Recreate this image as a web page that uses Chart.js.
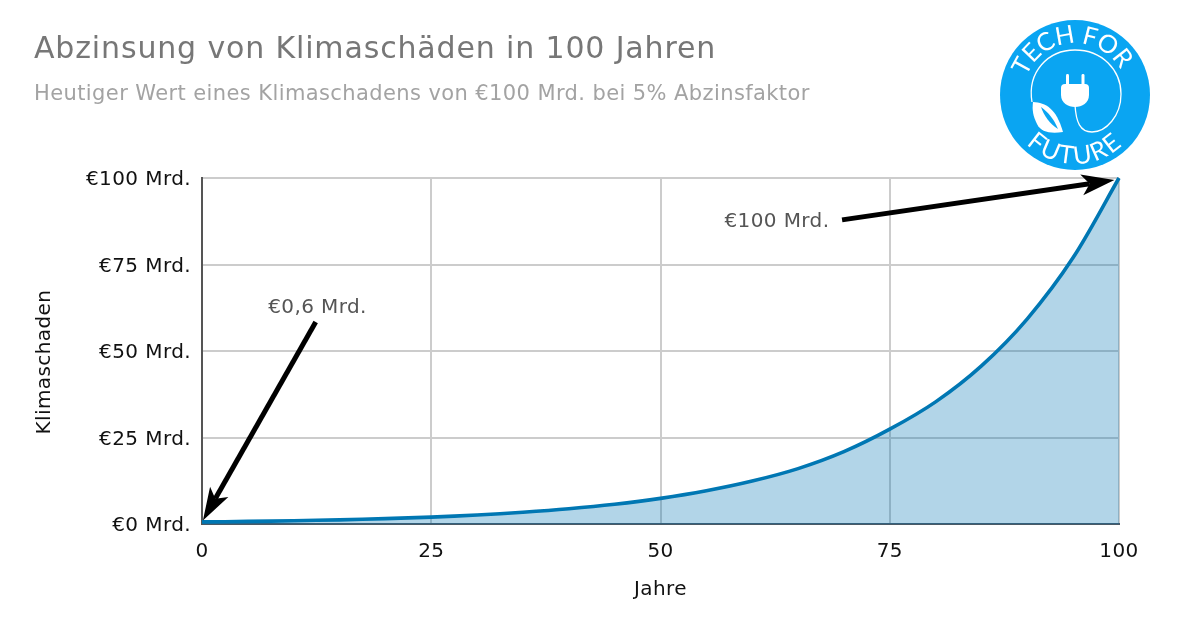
<!DOCTYPE html>
<html><head><meta charset="utf-8">
<style>html,body{margin:0;padding:0;background:#fff}#w{position:relative;width:1200px;height:630px}canvas{position:absolute;left:0;top:0}svg{position:absolute;left:0;top:0}</style>
<script src="https://cdn.jsdelivr.net/npm/chart.js@4"></script></head><body>
<div id="w"><canvas id="c" width="1200" height="630"></canvas>
<svg width="1200" height="630" viewBox="0 0 1200 630">
<circle cx="1075" cy="95" r="75" fill="#0aa5f2"/>
<defs><path id="topArc" d="M1023 95 A52 52 0 0 1 1127 95"/><path id="botArc" d="M1006 95 A69 69 0 0 0 1144 95"/></defs>
<text font-family="Lato" font-size="25" fill="#fff" letter-spacing="-0.4" text-anchor="middle"><textPath href="#topArc" startOffset="47.5%">TECH FOR</textPath></text>
<text font-family="Lato" font-size="25" fill="#fff" letter-spacing="2" text-anchor="middle"><textPath href="#botArc" startOffset="50%">FUTURE</textPath></text>
<path d="M1032 102 C1027 72 1048 50 1075 50 C1102 50 1121 70 1121 94 C1121 116 1106 132 1092 132 C1080 132 1076 122 1075 105" fill="none" stroke="#fff" stroke-width="1.3"/>
<rect x="1066" y="74" width="3" height="12" rx="1.4" fill="#fff"/><rect x="1081.5" y="74" width="3" height="12" rx="1.4" fill="#fff"/>
<path d="M1061 88 Q1061 84 1065 84 H1085 Q1089 84 1089 88 V95 C1089 103 1082 107 1075 107 C1068 107 1061 103 1061 95 Z" fill="#fff"/>
<path d="M1033 102 C1046 103 1056 108 1063 132 C1050 134 1041 132 1037 124 C1033 116 1032 110 1033 102 Z" fill="#fff"/>
<path d="M1041 107 C1048 112 1054 119 1058 129 C1050 124 1044 116 1041 107 Z" fill="#0aa5f2"/>
</svg></div>
<script>
const titleText = "Abzinsung von Klimaschäden in 100 Jahren";
const subtitleText = "Heutiger Wert eines Klimaschadens von €100 Mrd. bei 5% Abzinsfaktor";
const xAxisLabel = "Jahre";
const yAxisLabel = "Klimaschaden";
const years = [0,5,10,15,20,25,30,35,40,45,50,55,60,65,70,75,80,85,90,95,100];
const damage = [0.6,0.75,0.95,1.2,1.55,2.0,2.6,3.4,4.4,5.7,7.4,9.6,12.4,16.0,20.9,27.4,35.3,45.7,59.3,77,100];
const arrowFrom = [[12.4,58.4],[69.8,87.9]];
const arrowTo = [[0.1,1.0],[99.5,99.4]];
const noteText = ["€0,6 Mrd.","€100 Mrd."];
const noteAt = [[12.6,62.6],[62.7,87.2]];

const annotate = {id:'annotate',
 beforeDraw(ch){
  ch.ctx.letterSpacing='0.4px';
  ch.scales.y.getLabelItems(ch.chartArea).forEach(it=>{it.options.translation[1]+=2;});
 },
 afterLayout(ch){
  for(const [b,sp] of [[ch.titleBlock,'0.85px'],[ch.$subtitle,'0.46px']]){
    if(b&&!b._ls){b._ls=1;const d=b.draw;b.draw=function(...a){const c=this.ctx;const o=c.letterSpacing;c.letterSpacing=sp;d.apply(this,a);c.letterSpacing=o;};}
  }
 },
 afterDatasetsDraw(ch){
  const {ctx,scales:{x,y}}=ch;
  ctx.save();
  arrowFrom.forEach((f,i)=>{
    const x0=x.getPixelForValue(f[0]),y0=y.getPixelForValue(f[1]);
    const x1=x.getPixelForValue(arrowTo[i][0]),y1=y.getPixelForValue(arrowTo[i][1]);
    const a=Math.atan2(y1-y0,x1-x0),L=33,W=10.5,N=25;
    const bx=x1-N*Math.cos(a),by=y1-N*Math.sin(a);
    ctx.strokeStyle='#000';ctx.lineWidth=5;ctx.beginPath();ctx.moveTo(x0,y0);ctx.lineTo(bx,by);ctx.stroke();
    ctx.fillStyle='#000';ctx.beginPath();ctx.moveTo(x1,y1);
    ctx.lineTo(x1-L*Math.cos(a)+W*Math.sin(a),y1-L*Math.sin(a)-W*Math.cos(a));
    ctx.lineTo(bx,by);
    ctx.lineTo(x1-L*Math.cos(a)-W*Math.sin(a),y1-L*Math.sin(a)+W*Math.cos(a));
    ctx.closePath();ctx.fill();
  });
  ctx.font='20px "DejaVu Sans"';ctx.fillStyle='#555';ctx.textAlign='center';ctx.textBaseline='middle';
  noteText.forEach((t,i)=>ctx.fillText(t,x.getPixelForValue(noteAt[i][0]),y.getPixelForValue(noteAt[i][1])));
  ctx.translate(45,y.getPixelForValue(46.8));ctx.rotate(-Math.PI/2);ctx.fillStyle='#111';
  ctx.fillText(yAxisLabel,0,0);
  ctx.restore();
}};

new Chart(document.getElementById('c'),{
  type:'line',
  data:{datasets:[{data:years.map((t,i)=>({x:t,y:damage[i]})),borderColor:'#0077b3',borderWidth:3.6,backgroundColor:'rgba(0,115,178,0.3)',fill:'origin',pointRadius:0,tension:0.33,clip:false}]},
  options:{responsive:false,animation:false,
    layout:{padding:{left:34,right:81,top:32,bottom:26}},
    plugins:{legend:{display:false},tooltip:{enabled:false},
      title:{display:true,text:titleText,align:'start',color:'#777',font:{family:'"DejaVu Sans"',size:30,weight:'normal'},padding:{top:0,bottom:14.4}},
      subtitle:{display:true,text:subtitleText,align:'start',color:'#a3a3a3',font:{family:'"DejaVu Sans"',size:21,weight:'normal'},padding:{top:0,bottom:70.4}}},
    scales:{
      x:{type:'linear',min:0,max:100,ticks:{stepSize:25,color:'#111',font:{family:'"DejaVu Sans"',size:20},padding:16,maxRotation:0},
        grid:{color:'#ccc',lineWidth:2,drawTicks:false},border:{display:true,color:'#4a5a66',width:2},
        title:{display:true,text:xAxisLabel,color:'#111',font:{family:'"DejaVu Sans"',size:20},padding:{top:0,bottom:2}},
        afterFit(s){s.height=80}},
      y:{min:0,max:100,ticks:{stepSize:25,color:'#111',font:{family:'"DejaVu Sans"',size:20},padding:11,callback:v=>'€'+v+' Mrd.'},
        grid:{color:'#ccc',lineWidth:2,drawTicks:false},border:{display:true,color:'#555',width:2},
        afterFit(s){s.width=168}}
    }},
  plugins:[annotate]
});
</script></body></html>
